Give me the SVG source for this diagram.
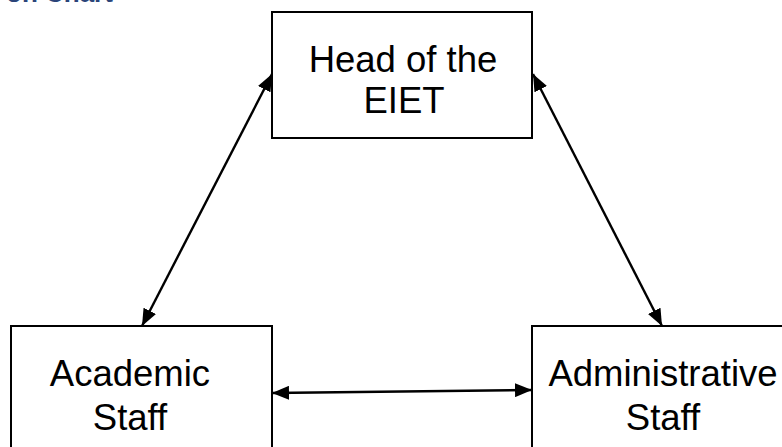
<svg xmlns="http://www.w3.org/2000/svg" width="782" height="447" viewBox="0 0 782 447">
<style>
.box{fill:#fff;stroke:#000;stroke-width:2}
.lbl{font-family:"Liberation Sans",Arial,sans-serif;font-size:36.5px;fill:#000;text-anchor:middle}
.conn{stroke:#000;stroke-width:2.4;fill:none;marker-start:url(#ah);marker-end:url(#ah)}
.title{font-family:"Liberation Sans",Arial,sans-serif;font-size:26px;font-weight:bold;fill:#2B4479}
</style>
<defs>
<marker id="ah" markerUnits="userSpaceOnUse" markerWidth="17" markerHeight="14" refX="17" refY="7" orient="auto-start-reverse">
<path d="M0,0 L17,7 L0,14 z" fill="#000"/>
</marker>
</defs>
<rect width="782" height="447" fill="#fff"/>
<text class="title" x="6" y="1.5">on Chart</text>
<g id="head">
<rect class="box" x="272" y="12" width="260" height="126"/>
<text class="lbl" x="403" y="72">Head of the</text>
<text class="lbl" x="404" y="113">EIET</text>
</g>
<g id="academic">
<rect class="box" x="11" y="326" width="261" height="140"/>
<text class="lbl" x="130" y="386">Academic</text>
<text class="lbl" x="130" y="430">Staff</text>
</g>
<g id="administrative">
<rect class="box" x="532" y="326" width="270" height="140"/>
<text class="lbl" x="663" y="386">Administrative</text>
<text class="lbl" x="663" y="430">Staff</text>
</g>
<g id="connectors">
<line class="conn" x1="142" y1="326" x2="272" y2="74"/>
<line class="conn" x1="533" y1="74" x2="662" y2="326"/>
<line class="conn" x1="272" y1="393" x2="532" y2="390"/>
</g>
</svg>
